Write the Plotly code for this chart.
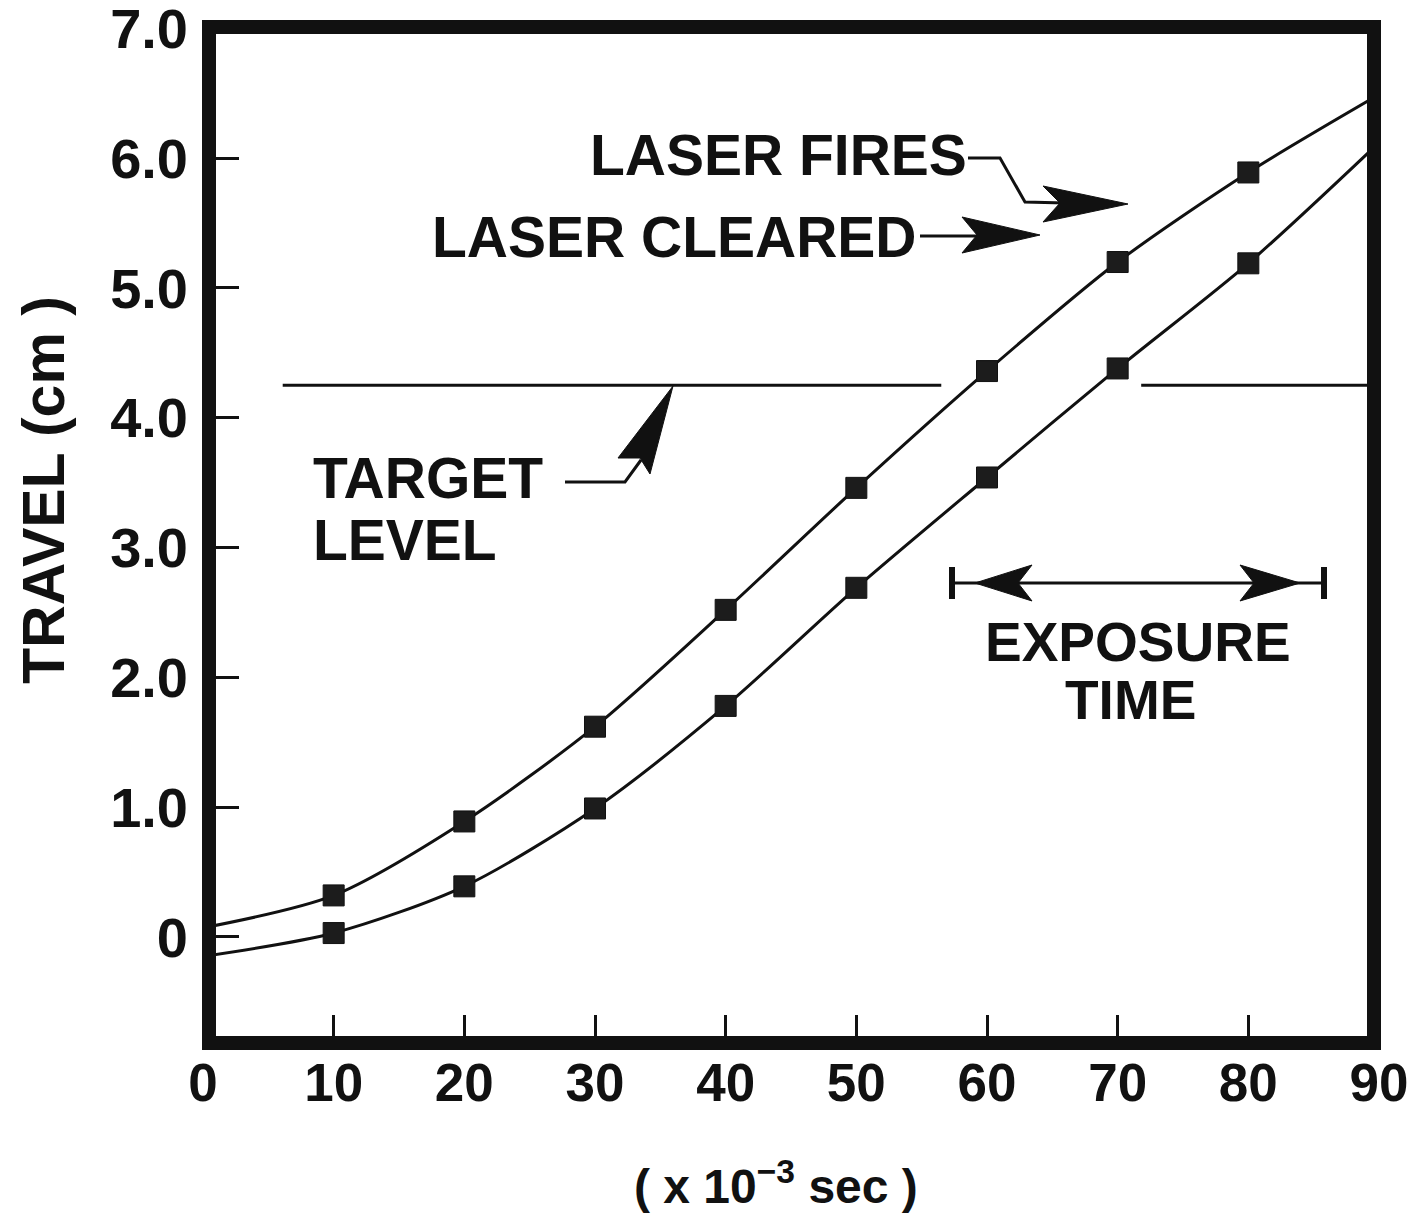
import plotly.graph_objects as go

# ---------------- data ----------------
time_ms = [0, 10, 20, 30, 40, 50, 60, 70, 80, 90]
laser_fires = [0.07, 0.32, 0.89, 1.62, 2.52, 3.46, 4.36, 5.20, 5.89, 6.49]
laser_cleared = [-0.15, 0.03, 0.39, 0.99, 1.78, 2.69, 3.54, 4.38, 5.19, 6.12]
marker_idx = slice(1, 9)          # squares drawn at 10 ... 80 ms
target_level = 4.25
target_gaps = [(6.1, 56.5), (71.8, 90.0)]   # drawn segments of the target line
x_ticks = [0, 10, 20, 30, 40, 50, 60, 70, 80, 90]
y_ticks = [0, 1, 2, 3, 4, 5, 6, 7]
y_tick_text = ["0", "1.0", "2.0", "3.0", "4.0", "5.0", "6.0", "7.0"]

# ---------------- geometry (page pixels; the page body has an 8px margin) ----------------
OFF = 8
W, H = 1417 - 2 * OFF, 1222 - 2 * OFF
PL, PR, PT, PB = 203, 1379, 28, 1043      # plot area edges in page pixels
ML, MT = PL - OFF, PT - OFF
MR, MB = (W + OFF) - PR, (H + OFF) - PB
PW, PH = PR - PL, PB - PT
XR = [0, 90]
YR = [-0.817, 7.003]


def xd(px):
    return XR[0] + (px - PL) / PW * (XR[1] - XR[0])


def yd(py):
    return YR[0] + (PB - py) / PH * (YR[1] - YR[0])


def xp(px):
    return (px - PL) / PW


def yp(py):
    return (PB - py) / PH


def path(points, close=False):
    s = "M " + " L ".join(f"{xd(a):.4f},{yd(b):.4f}" for a, b in points)
    return s + (" Z" if close else "")


INK = "#111111"
FONT = "Liberation Sans"

fig = go.Figure()

for vals in (laser_fires, laser_cleared):
    fig.add_trace(go.Scatter(x=time_ms, y=vals, mode="lines",
                             line=dict(color=INK, width=3, shape="spline", smoothing=0.8),
                             showlegend=False, hoverinfo="skip"))
    fig.add_trace(go.Scatter(x=time_ms[marker_idx], y=vals[marker_idx], mode="markers",
                             marker=dict(symbol="square", size=21, color="#1c1c1c",
                                         line=dict(color=INK, width=1)),
                             showlegend=False))

shapes = []
# target level line
for a, b in target_gaps:
    shapes.append(dict(type="line", xref="x", yref="y", x0=a, x1=b,
                       y0=target_level, y1=target_level,
                       line=dict(color=INK, width=3)))


def dart(tip, b1, notch, b2):
    return dict(type="path", xref="x", yref="y", path=path([tip, b1, notch, b2], True),
                fillcolor=INK, line=dict(color=INK, width=1))


def polyline(pts, w=3):
    return dict(type="path", xref="x", yref="y", path=path(pts),
                line=dict(color=INK, width=w))


# LASER FIRES pointer
shapes.append(polyline([(968, 158), (1000, 158), (1025, 202), (1065, 203)]))
shapes.append(dart((1128, 204), (1043, 186), (1060, 203), (1043, 222)))
# LASER CLEARED pointer
shapes.append(polyline([(920, 236), (980, 236)]))
shapes.append(dart((1040, 235), (962, 217), (977, 235), (962, 253)))
# TARGET LEVEL pointer
shapes.append(polyline([(565, 482), (625, 482), (641, 460)]))
shapes.append(dart((673, 386), (618, 458), (640, 458), (650, 474)))
# exposure time double arrow
shapes.append(polyline([(952, 583), (1324, 583)]))
shapes.append(polyline([(952, 567), (952, 599)], 6))
shapes.append(polyline([(1324, 567), (1324, 599)], 6))
shapes.append(dart((975, 583), (1032, 565), (1018, 583), (1032, 601)))
shapes.append(dart((1300, 583), (1240, 565), (1254, 583), (1240, 601)))
# heavy frame
shapes.append(dict(type="rect", xref="paper", yref="paper", layer="above",
                   x0=xp(209), x1=xp(1374), y0=yp(1043), y1=yp(27),
                   line=dict(color=INK, width=14)))

ann = []


def label(text, px, py, size=57, xanchor="left"):
    ann.append(dict(text=text, x=xd(px), y=yd(py), xref="x", yref="y",
                    xanchor=xanchor, yanchor="middle", showarrow=False,
                    font=dict(family=FONT, size=size, color=INK, weight="bold")))


label("LASER FIRES", 588, 155)
label("LASER CLEARED", 430, 237)
label("TARGET", 311, 478, 57)
label("LEVEL", 311, 540, 57)
label("EXPOSURE", 1138, 642, 55, "center")
label("TIME", 1130, 700, 55, "center")

# axis titles
ann.append(dict(text="TRAVEL (cm )", x=xp(44), y=yp(490), xref="paper", yref="paper",
                textangle=-90, showarrow=False, xanchor="center", yanchor="middle",
                font=dict(family=FONT, size=59, color=INK, weight="bold")))
ann.append(dict(text="( x 10<sup>−3</sup> sec )", x=xp(776), y=yp(1183),
                xref="paper", yref="paper", showarrow=False,
                xanchor="center", yanchor="middle",
                font=dict(family=FONT, size=48, color=INK, weight="bold")))

fig.update_layout(
    width=W, height=H,
    margin=dict(l=ML, r=MR, t=MT, b=MB, pad=0, autoexpand=False),
    paper_bgcolor="white", plot_bgcolor="white",
    shapes=shapes, annotations=ann, showlegend=False,
    xaxis=dict(range=XR, tickvals=x_ticks, ticks="inside", ticklen=28, tickwidth=3,
               tickcolor=INK, showgrid=False, zeroline=False, showline=False,
               automargin=False, ticklabelstandoff=4, ticklabeloverflow="allow",
               tickfont=dict(family=FONT, size=53, color=INK, weight="bold")),
    yaxis=dict(range=YR, tickvals=y_ticks, ticktext=y_tick_text, ticks="inside",
               ticklen=36, tickwidth=3, tickcolor=INK, showgrid=False,
               zeroline=False, showline=False, ticklabelstandoff=14,
               automargin=False, ticklabeloverflow="allow",
               tickfont=dict(family=FONT, size=56, color=INK, weight="bold")),
)

fig.write_html("out.html")
